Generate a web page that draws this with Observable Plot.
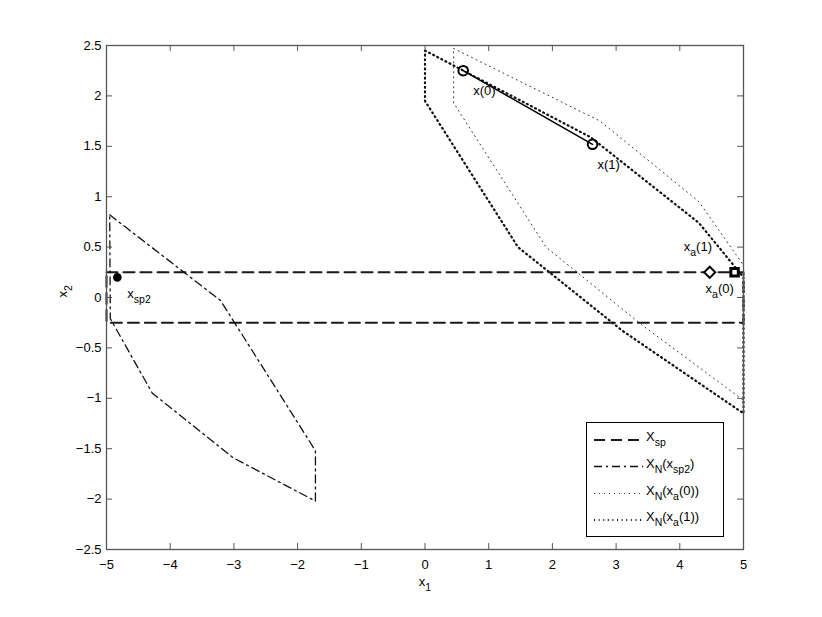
<!DOCTYPE html>
<html><head><meta charset="utf-8">
<script src="https://cdn.jsdelivr.net/npm/d3@7"></script>
<script src="https://cdn.jsdelivr.net/npm/@observablehq/plot@0.6"></script>
<style>
body{margin:0;background:#fff;}
#wrap{position:relative;width:822px;height:617px;font-family:"Liberation Sans",Arial,Helvetica,sans-serif;}
#legend{position:absolute;left:586px;top:422px;width:138px;height:115px;background:#fff;border:1px solid #000;box-sizing:border-box;}
#legend svg{display:block;}
</style></head><body><div id="wrap"><div id="legend"></div></div>
<script>
// ---- data ----
const xTicks = [-5, -4, -3, -2, -1, 0, 1, 2, 3, 4, 5];
const yTicks = [-2.5, -2, -1.5, -1, -0.5, 0, 0.5, 1, 1.5, 2, 2.5];

// X_sp : state constraint set (dashed rectangle)
const xspX = [-5, 5, 5, -5, -5];
const xspY = [0.25, 0.25, -0.25, -0.25, 0.25];

// X_N(x_sp2) : dash-dot polygon
const nSp2X = [-4.95, -3.21, -1.72, -1.72, -3.01, -4.28, -4.94, -4.95];
const nSp2Y = [0.82, -0.03, -1.52, -2.02, -1.59, -0.95, -0.21, 0.82];

// X_N(x_a(0)) : fine dotted polygon
const nA0X = [0.45, 2.75, 4.3, 5.0, 5.0, 3.4, 1.9, 0.45, 0.45];
const nA0Y = [2.47, 1.75, 0.95, 0.32, -1.02, -0.27, 0.5, 1.93, 2.47];

// X_N(x_a(1)) : heavy dotted polygon
const nA1X = [0.0, 2.6, 4.3, 5.0, 5.0, 3.1, 1.46, 0.0, 0.0];
const nA1Y = [2.45, 1.59, 0.74, 0.2, -1.15, -0.33, 0.5, 1.95, 2.45];

// trajectory x(0) -> x(1)
const trajX = [0.6, 2.63];
const trajY = [2.25, 1.52];
const trajLabels = ["x(0)", "x(1)"];

// x_a(0) (square), x_a(1) (diamond)
const xaX = [4.86, 4.47];
const xaY = [0.25, 0.25];
const xaLabels = ["x_{a}(0)", "x_{a}(1)"];

// x_sp2
const sp2X = [-4.83];
const sp2Y = [0.2];
const sp2Labels = ["x_{sp2}"];

const axisLabels = ["x_{1}", "x_{2}"];
const legendLabels = ["X_{sp}", "X_{N}(x_{sp2})", "X_{N}(x_{a}(0))", "X_{N}(x_{a}(1))"];

// ---- styles ----
const W = 822, H = 617, mL = 106, mR = 79, mT = 45, mB = 68;
const plotW = W - mL - mR, plotH = H - mT - mB, tickLen = 6;
const axisColor = "#555";
const styles = [
  {stroke: "#1a1a1a", strokeWidth: 2, strokeDasharray: "11,6"},
  {stroke: "#111", strokeWidth: 1.3, strokeDasharray: "8,4,2,4"},
  {stroke: "#333", strokeWidth: 1, strokeDasharray: "1,4"},
  {stroke: "#111", strokeWidth: 2.2, strokeDasharray: "1,3.6"}
];

const pts = (X, Y) => X.map((x, i) => ({x, y: Y[i]}));
const labeled = (X, Y, L) => X.map((x, i) => ({x, y: Y[i], t: L[i]}));
const fmt = d => (d < 0 ? "\u2212" : "") + Math.abs(d);

const trajL = labeled(trajX, trajY, trajLabels);
const xaL = labeled(xaX, xaY, xaLabels);
const sp2L = labeled(sp2X, sp2Y, sp2Labels);

const chart = Plot.plot({
  width: W, height: H,
  marginLeft: mL, marginRight: mR, marginTop: mT, marginBottom: mB,
  style: {fontFamily: "'Liberation Sans', Arial, Helvetica, sans-serif", fontSize: "13px", background: "#fff", color: "#000"},
  x: {domain: [-5, 5]},
  y: {domain: [-2.5, 2.5]},
  marks: [
    Plot.line(pts(xspX, xspY), {x: "x", y: "y", ...styles[0]}),
    Plot.line(pts(nSp2X, nSp2Y), {x: "x", y: "y", ...styles[1]}),
    Plot.line(pts(nA0X, nA0Y), {x: "x", y: "y", ...styles[2]}),
    Plot.line(pts(nA1X, nA1Y), {x: "x", y: "y", ...styles[3]}),
    Plot.line(pts(trajX, trajY), {x: "x", y: "y", stroke: "#000", strokeWidth: 1.5}),
    Plot.dot(pts(trajX, trajY), {x: "x", y: "y", r: 4.8, stroke: "#000", strokeWidth: 2, fill: "none"}),
    Plot.dot(pts(xaX, xaY).slice(1), {x: "x", y: "y", symbol: "diamond2", r: 5, stroke: "#000", strokeWidth: 2, fill: "#fff"}),
    Plot.dot(pts(xaX, xaY).slice(0, 1), {x: "x", y: "y", symbol: "square", r: 4.2, stroke: "#000", strokeWidth: 3, fill: "#fff"}),
    Plot.dot(pts(sp2X, sp2Y), {x: "x", y: "y", r: 3.6, fill: "#000", stroke: "#000"}),
    Plot.text(trajL.slice(0, 1), {x: "x", y: "y", text: "t", textAnchor: "start", dx: 10, dy: 20}),
    Plot.text(trajL.slice(1), {x: "x", y: "y", text: "t", textAnchor: "start", dx: 5, dy: 21}),
    Plot.text(xaL.slice(0, 1), {x: "x", y: "y", text: "t", textAnchor: "start", dx: -29, dy: 17}),
    Plot.text(xaL.slice(1), {x: "x", y: "y", text: "t", textAnchor: "start", dx: -26, dy: -25}),
    Plot.text(sp2L, {x: "x", y: "y", text: "t", textAnchor: "start", dx: 10, dy: 16}),
    // inward ticks on all four sides
    Plot.ruleX(xTicks, {x: d => d, insetTop: plotH - tickLen, stroke: axisColor}),
    Plot.ruleX(xTicks, {x: d => d, insetBottom: plotH - tickLen, stroke: axisColor}),
    Plot.ruleY(yTicks, {y: d => d, insetRight: plotW - tickLen, stroke: axisColor}),
    Plot.ruleY(yTicks, {y: d => d, insetLeft: plotW - tickLen, stroke: axisColor}),
    Plot.axisX({ticks: xTicks, tickSize: 0, tickPadding: 10, tickFormat: fmt, label: null}),
    Plot.axisY({ticks: yTicks, tickSize: 0, tickPadding: 5, tickFormat: fmt, label: null}),
    Plot.text([axisLabels[0]], {text: d => d, frameAnchor: "bottom", dy: 36}),
    Plot.text([axisLabels[1]], {text: d => d, frameAnchor: "left", dx: -44, rotate: -90}),
    Plot.frame({stroke: axisColor, strokeWidth: 1.3})
  ]
});

const wrap = document.getElementById("wrap");
wrap.insertBefore(chart, wrap.firstChild);
chart.style.position = "absolute";
chart.style.left = "0px";
chart.style.top = "0px";

const svgNS = "http://www.w3.org/2000/svg";
function subify(el, shift) {
  const s = el.textContent;
  if (!s.includes("_{")) return;
  while (el.firstChild) el.removeChild(el.firstChild);
  const parts = s.split(/(_\{[^}]*\})/);
  let shifted = false;
  for (const p of parts) {
    if (!p) continue;
    const t = document.createElementNS(svgNS, "tspan");
    if (p.startsWith("_{")) {
      t.textContent = p.slice(2, -1);
      t.setAttribute("dy", shift);
      t.setAttribute("font-size", "10.5px");
      shifted = true;
    } else {
      t.textContent = p;
      if (shifted) { t.setAttribute("dy", -shift); shifted = false; }
    }
    el.appendChild(t);
  }
}
chart.querySelectorAll("text").forEach(el => subify(el, 5));

// legend
const lsvg = d3.select("#legend").append("svg").attr("width", 136).attr("height", 113)
  .style("font-family", "'Liberation Sans', Arial, Helvetica, sans-serif").style("font-size", "13px");
const rowY = [17, 43.5, 70.5, 97];
legendLabels.forEach((lab, i) => {
  const s = styles[i];
  lsvg.append("line").attr("x1", 7).attr("x2", 56).attr("y1", rowY[i]).attr("y2", rowY[i])
    .attr("stroke", s.stroke).attr("stroke-width", s.strokeWidth).attr("stroke-dasharray", s.strokeDasharray);
  const t = lsvg.append("text").attr("x", 59).attr("y", rowY[i] + 1).text(lab).node();
  subify(t, 5);
});
</script></body></html>
